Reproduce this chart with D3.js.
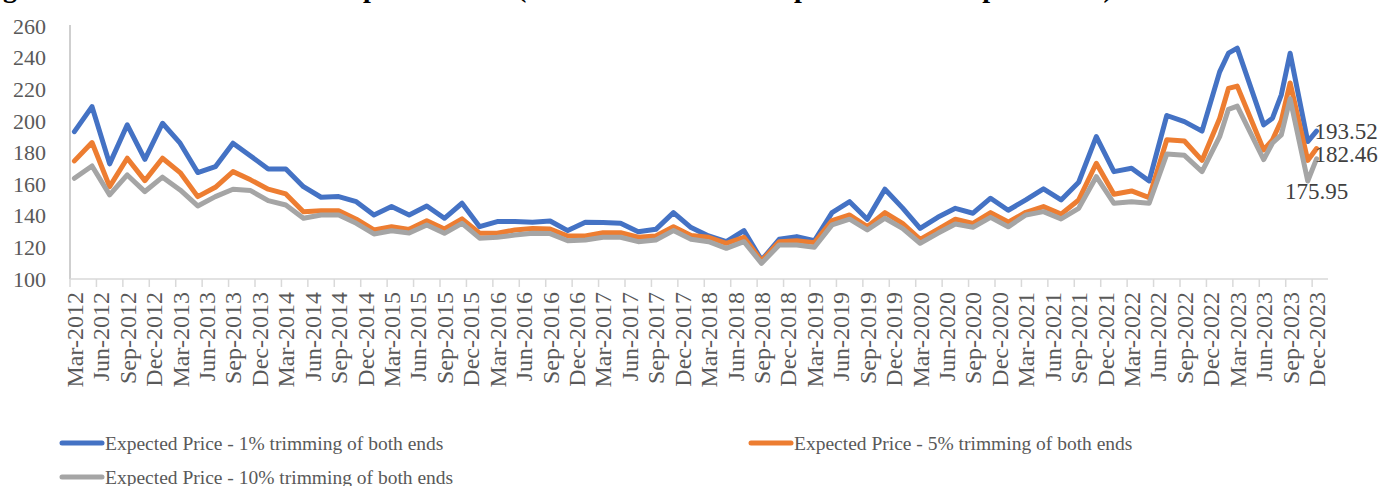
<!DOCTYPE html>
<html>
<head>
<meta charset="utf-8">
<script src="https://cdn.jsdelivr.net/npm/d3@7"></script>
<style>
  body { margin: 0; background: #fff; }
  svg text { font-family: "Liberation Serif", "Times New Roman", serif; }
</style>
</head>
<body>
<div id="chart"></div>
<script>
// survey rounds (bi-monthly, then monthly in 2023)
var dates = [
  "2012-03","2012-05","2012-07","2012-09","2012-11",
  "2013-01","2013-03","2013-05","2013-07","2013-09","2013-11",
  "2014-01","2014-03","2014-05","2014-07","2014-09","2014-11",
  "2015-01","2015-03","2015-05","2015-07","2015-09","2015-11",
  "2016-01","2016-03","2016-05","2016-07","2016-09","2016-11",
  "2017-01","2017-03","2017-05","2017-07","2017-09","2017-11",
  "2018-01","2018-03","2018-05","2018-07","2018-09","2018-11",
  "2019-01","2019-03","2019-05","2019-07","2019-09","2019-11",
  "2020-01","2020-03","2020-05","2020-07","2020-09","2020-11",
  "2021-01","2021-03","2021-05","2021-07","2021-09","2021-11",
  "2022-01","2022-03","2022-05","2022-07","2022-09","2022-11",
  "2023-01","2023-02","2023-03","2023-06","2023-07","2023-08","2023-09","2023-11","2023-12"
];

var trim1 = [
  193.2, 209, 172.8, 197.5, 175.7,
  198.5, 185.9, 167.3, 171, 185.9, 177.8,
  169.6, 169.6, 158.4, 151.7, 152.1, 148.9,
  140.5, 145.8, 140.5, 146.2, 138.4, 147.9,
  133.1, 136.3, 136.3, 135.9, 136.7, 130.6,
  135.9, 135.7, 135.2, 129.9, 131.4, 142,
  132.5, 127.2, 123.6, 130.6, 112, 125.1,
  126.8, 124.2, 142, 148.9, 137.8, 156.8,
  145, 132, 139, 144.7, 141.6, 151.1,
  143.5, 150, 157, 150, 161.2, 190.1,
  167.9, 170, 162, 203.4, 199.5, 193.5,
  231, 242.8, 246, 197.5, 201.7, 216.5, 242.8, 186.9, 193.52
];

var trim5 = [
  174.7, 186.3, 158.4, 176.4, 162.2,
  176.4, 167.3, 152.1, 158, 167.9, 162.7,
  156.8, 153.8, 142.6, 143.2, 143.2, 137.8,
  131, 133.1, 131.4, 136.9, 131.6, 138,
  128.9, 128.9, 131, 132, 131.6, 127.2,
  127.2, 129.3, 129.3, 126.4, 127.2, 133.1,
  127.5, 126.4, 122.6, 126.4, 111.5, 123.6,
  124.2, 123, 136.9, 140.5, 133.1, 142,
  135.2, 125.1, 131.4, 137.8, 135.2, 142,
  136, 142.2, 145.8, 141, 150, 173.2,
  153.6, 155.7, 151.5, 188, 187.3, 175,
  201.5, 220.5, 222, 181.6, 188, 200.2, 224, 175, 182.46
];

var trim10 = [
  163.7, 171.5, 153.2, 165.8, 155.3,
  164.4, 156.3, 146.2, 152.1, 156.8, 155.9,
  149.6, 146.8, 138.4, 140.5, 140.5, 135.2,
  128.5, 130.5, 129.1, 134.2, 128.9, 135.2,
  125.8, 126.4, 127.8, 128.9, 128.7, 124.2,
  124.7, 126.4, 126.4, 123.6, 124.7, 130.6,
  125.1, 123.6, 119.4, 123.6, 109.9, 121.5,
  121.5, 120.1, 134.2, 137.8, 131, 138.4,
  132, 122.6, 128.9, 134.8, 132.7, 139,
  133, 140.5, 142.6, 138, 144.7, 164.7,
  147.9, 148.9, 147.9, 179, 178.2, 167.9,
  190, 207.3, 209.3, 175.5, 186, 191.1, 214, 162, 175.95
];

var seriesNames = [
  "Expected Price - 1% trimming of both ends",
  "Expected Price - 5% trimming of both ends",
  "Expected Price - 10% trimming of both ends"
];
var colors = ["#4472C4", "#ED7D31", "#A5A5A5"];

var tickLabels = [
  "Mar-2012","Jun-2012","Sep-2012","Dec-2012","Mar-2013","Jun-2013","Sep-2013","Dec-2013",
  "Mar-2014","Jun-2014","Sep-2014","Dec-2014","Mar-2015","Jun-2015","Sep-2015","Dec-2015",
  "Mar-2016","Jun-2016","Sep-2016","Dec-2016","Mar-2017","Jun-2017","Sep-2017","Dec-2017",
  "Mar-2018","Jun-2018","Sep-2018","Dec-2018","Mar-2019","Jun-2019","Sep-2019","Dec-2019",
  "Mar-2020","Jun-2020","Sep-2020","Dec-2020","Mar-2021","Jun-2021","Sep-2021","Dec-2021",
  "Mar-2022","Jun-2022","Sep-2022","Dec-2022","Mar-2023","Jun-2023","Sep-2023","Dec-2023"
];
var yTicks = [100, 120, 140, 160, 180, 200, 220, 240, 260];

var titleText = "Figure 4: Average Level of All Consumers' Expected Price (Trimmed Means of Reported Price Expectations)";

var W = 1383, H = 486;
var svg = d3.select("#chart").append("svg")
    .attr("width", W)
    .attr("height", H);

// month index counted from Mar-2012
function monthIdx(s) {
  var p = s.split("-");
  return (+p[0] - 2012) * 12 + (+p[1] - 3);
}
var monNames = {Jan:1,Feb:2,Mar:3,Apr:4,May:5,Jun:6,Jul:7,Aug:8,Sep:9,Oct:10,Nov:11,Dec:12};
function labelIdx(l) {
  var p = l.split("-");
  return (+p[1] - 2012) * 12 + (monNames[p[0]] - 3);
}

var x = d3.scaleLinear().domain([0, 142.8]).range([70, 1328]);
var y = d3.scaleLinear().domain([100, 260]).range([279, 26]);

// title, cut off at the top edge like the source (only descenders show)
var title = svg.append("text")
  .attr("y", -3)
  .style("font-size", "28px")
  .style("font-weight", "bold")
  .attr("fill", "#000")
  .text(titleText);
var cut = title.node().getSubStringLength(0, titleText.indexOf("ge Level"));
title.attr("x", 3 - cut);

// y axis
svg.append("line")
  .attr("x1", 70).attr("x2", 70)
  .attr("y1", y(260) - 1).attr("y2", y(100))
  .attr("stroke", "#bfbfbf").attr("stroke-width", 1.5);
svg.selectAll(".ylab")
  .data(yTicks)
  .enter().append("text")
  .attr("class", "ylab")
  .attr("x", 46)
  .attr("y", function(d) { return y(d); })
  .attr("dy", "0.35em")
  .attr("text-anchor", "end")
  .style("font-size", "22px")
  .attr("fill", "#595959")
  .text(function(d) { return d; });

// x axis
svg.append("line")
  .attr("x1", 70).attr("x2", 1328)
  .attr("y1", y(100)).attr("y2", y(100))
  .attr("stroke", "#d9d9d9").attr("stroke-width", 1.5);
svg.selectAll(".xtick")
  .data(tickLabels)
  .enter().append("line")
  .attr("x1", function(d) { return x(labelIdx(d)); })
  .attr("x2", function(d) { return x(labelIdx(d)); })
  .attr("y1", y(100)).attr("y2", y(100) + 8)
  .attr("stroke", "#d9d9d9").attr("stroke-width", 1.5);
svg.selectAll(".xlab")
  .data(tickLabels)
  .enter().append("text")
  .attr("transform", function(d) {
    return "translate(" + x(labelIdx(d) + 0.5) + "," + 292 + ")rotate(-90)";
  })
  .attr("dy", "0.35em")
  .attr("text-anchor", "end")
  .style("font-size", "24px")
  .attr("fill", "#595959")
  .text(function(d) { return d; });

// lines
var all = [trim1, trim5, trim10];
var line = d3.line()
  .x(function(d, i) { return x(monthIdx(dates[i]) + 0.5); })
  .y(function(d) { return y(d); });

all.forEach(function(vals, k) {
  svg.append("path")
    .datum(vals)
    .attr("d", line)
    .attr("fill", "none")
    .attr("stroke", colors[k])
    .attr("stroke-width", 5)
    .attr("stroke-linejoin", "round")
    .attr("stroke-linecap", "round");
});

// end labels
var last = dates.length - 1;
var lastX = x(monthIdx(dates[last]) + 0.5);
svg.append("text")
  .attr("x", lastX - 2).attr("y", y(trim1[last])).attr("dy", "0.35em")
  .style("font-size", "23px").attr("fill", "#404040")
  .text(trim1[last].toFixed(2));
svg.append("text")
  .attr("x", lastX - 2).attr("y", y(trim5[last]) + 5).attr("dy", "0.35em")
  .style("font-size", "23px").attr("fill", "#404040")
  .text(trim5[last].toFixed(2));
svg.append("text")
  .attr("x", lastX).attr("y", y(trim10[last]) + 32).attr("dy", "0.35em")
  .attr("text-anchor", "middle")
  .style("font-size", "23px").attr("fill", "#404040")
  .text(trim10[last].toFixed(2));

// legend
var legPos = [[62, 443], [751, 443], [62, 477]];
seriesNames.forEach(function(name, k) {
  var g = svg.append("g").attr("transform", "translate(" + legPos[k][0] + "," + legPos[k][1] + ")");
  g.append("line")
    .attr("x1", 0).attr("x2", 40)
    .attr("stroke", colors[k]).attr("stroke-width", 5)
    .attr("stroke-linecap", "round");
  g.append("text")
    .attr("x", 43).attr("dy", "0.35em")
    .style("font-size", "19.5px").attr("fill", "#595959")
    .text(name);
});
</script>
</body>
</html>
